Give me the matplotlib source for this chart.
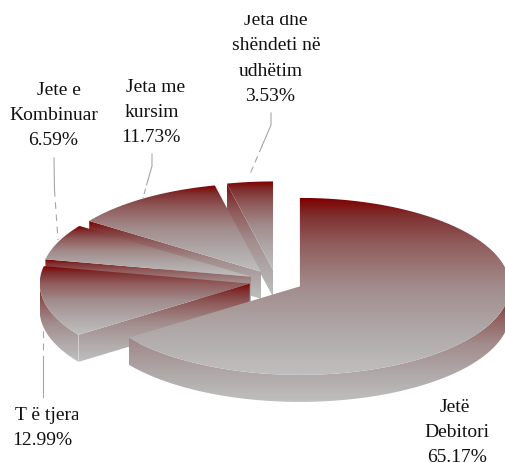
"""Exploded 3D style pie of life insurance shares, drawn with gradient faces."""

import numpy as np
import matplotlib
matplotlib.use('Agg')
import matplotlib.pyplot as plt
from matplotlib.colors import LinearSegmentedColormap
from matplotlib.patches import Polygon, Rectangle

# clockwise from 12 o'clock
categories = ['Jetë Debitori', 'T ë tjera', 'Jete e Kombinuar', 'Jeta me kursim', 'Jeta dhe shëndeti në udhëtim']
shares = [65.17, 12.99, 6.59, 11.73, 3.53]

label_lines = ['Jetë', 'Debitori', '65.17%',
               'T ë tjera', '12.99%',
               'Jete e', 'Kombinuar', '6.59%',
               'Jeta me', 'kursim', '11.73%',
               'Jeta dhe', 'shëndeti në', 'udhëtim', '3.53%']
label_x = [455, 457, 457, 47, 42.5, 58.5, 54, 53, 156, 152, 151, 275.5, 276, 271, 270]
label_y = [412, 437, 462, 420, 445, 95, 120, 145, 92, 117, 142, 25, 50, 76, 101]

# pie geometry in pixels
CX, CY = 276, 281.2
RX, RY = 210, 88.5
DEPTH = 27
EXPLODE = 0.128

grad = LinearSegmentedColormap.from_list(
    'face', [(0, '#7f0000'), (0.1, '#7f3030'), (0.25, '#905a5a'), (0.5, '#a28c8c'), (0.75, '#b0a8a8'), (1, '#bfbfbf')])
ramp = np.linspace(0, 1, 256).reshape(-1, 1)

fig = plt.figure(figsize=[5.05, 4.63], dpi=100)
ax = fig.add_axes([0, 0, 1, 1])
ax.set_axis_off()


def ell(theta):
    # theta in degrees clockwise from top
    t = np.radians(theta)
    return np.column_stack([RX * np.sin(t), -RY * np.cos(t)])


def face(pts, z):
    """Fill a polygon with the vertical gradient of its own bounding box."""
    x0, x1 = pts[:, 0].min(), pts[:, 0].max()
    y0, y1 = pts[:, 1].min(), pts[:, 1].max()
    im = ax.imshow(ramp, cmap=grad, extent=[x0, x1, y1, y0], aspect='auto', zorder=z, interpolation='bilinear')
    im.set_clip_path(Polygon(pts, closed=True, transform=ax.transData))


edges = np.concatenate([[0], np.cumsum(shares)]) / np.sum(shares) * 360
down = np.array([0, DEPTH])
# back slices first, the big front slice last
order = [4, 3, 2, 1, 0]
for z, i in enumerate(order):
    a0, a1 = edges[i], edges[i + 1]
    mid = ell(np.array([(a0 + a1) / 2]))[0]
    apex = np.array([CX, CY]) + EXPLODE * mid
    arc = apex + ell(np.linspace(a0, a1, 120))
    base = z * 10 + 1

    # only the front half of the rim can be seen
    r0, r1 = max(a0, 90), min(a1, 270)
    if r1 > r0:
        rim = apex + ell(np.linspace(r0, r1, 120))
        face(np.vstack([rim, (rim + down)[::-1]]), base)

    # cut faces turned towards the viewer
    if np.sin(np.radians(a0)) < 0:
        p = arc[0]
        face(np.array([p, apex, apex + down, p + down]), base + 1)
    if np.sin(np.radians(a1)) > 0:
        p = arc[-1]
        face(np.array([p, apex, apex + down, p + down]), base + 1)

    face(np.vstack([apex, arc]), base + 2)

# leader lines
LEAD = '#a6a6a6'
ax.plot([54, 54.5], [158, 190], color=LEAD, lw=0.8, zorder=100)
ax.plot([54.5, 58], [190, 240], color=LEAD, lw=0.8, ls=(0, (6, 5)), zorder=100)
ax.plot([152, 152, 148], [154, 166, 180], color=LEAD, lw=0.8, zorder=100)
ax.plot([148, 143], [180, 198], color=LEAD, lw=0.8, ls=(0, (5, 3)), zorder=100)
ax.plot([271, 271, 262], [113, 125, 146], color=LEAD, lw=0.8, zorder=100)
ax.plot([262, 250], [146, 174], color=LEAD, lw=0.8, ls=(0, (6, 4)), zorder=100)
ax.plot([43, 43], [397, 362], color=LEAD, lw=0.8, zorder=100)
ax.plot([43, 43], [362, 330], color=LEAD, lw=0.8, ls=(0, (6, 5)), zorder=100)

# the source crops its labels at the text box edges
for s, x, y in zip(label_lines, label_x, label_y):
    t = ax.text(x, y, s, ha='center', va='baseline', fontsize=14,
                family='Liberation Serif', color='#111111', zorder=110)
    if s == 'Jeta dhe':
        t.set_clip_on(True)
        t.set_clip_path(Rectangle((0, 15), 505, 448, transform=ax.transData))
    if s == 'T ë tjera':
        t.set_clip_on(True)
        t.set_clip_path(Rectangle((0, 0), 78, 463, transform=ax.transData))

ax.set_xlim(0, 505)
ax.set_ylim(463, 0)
fig.savefig('out.png', dpi=100)
